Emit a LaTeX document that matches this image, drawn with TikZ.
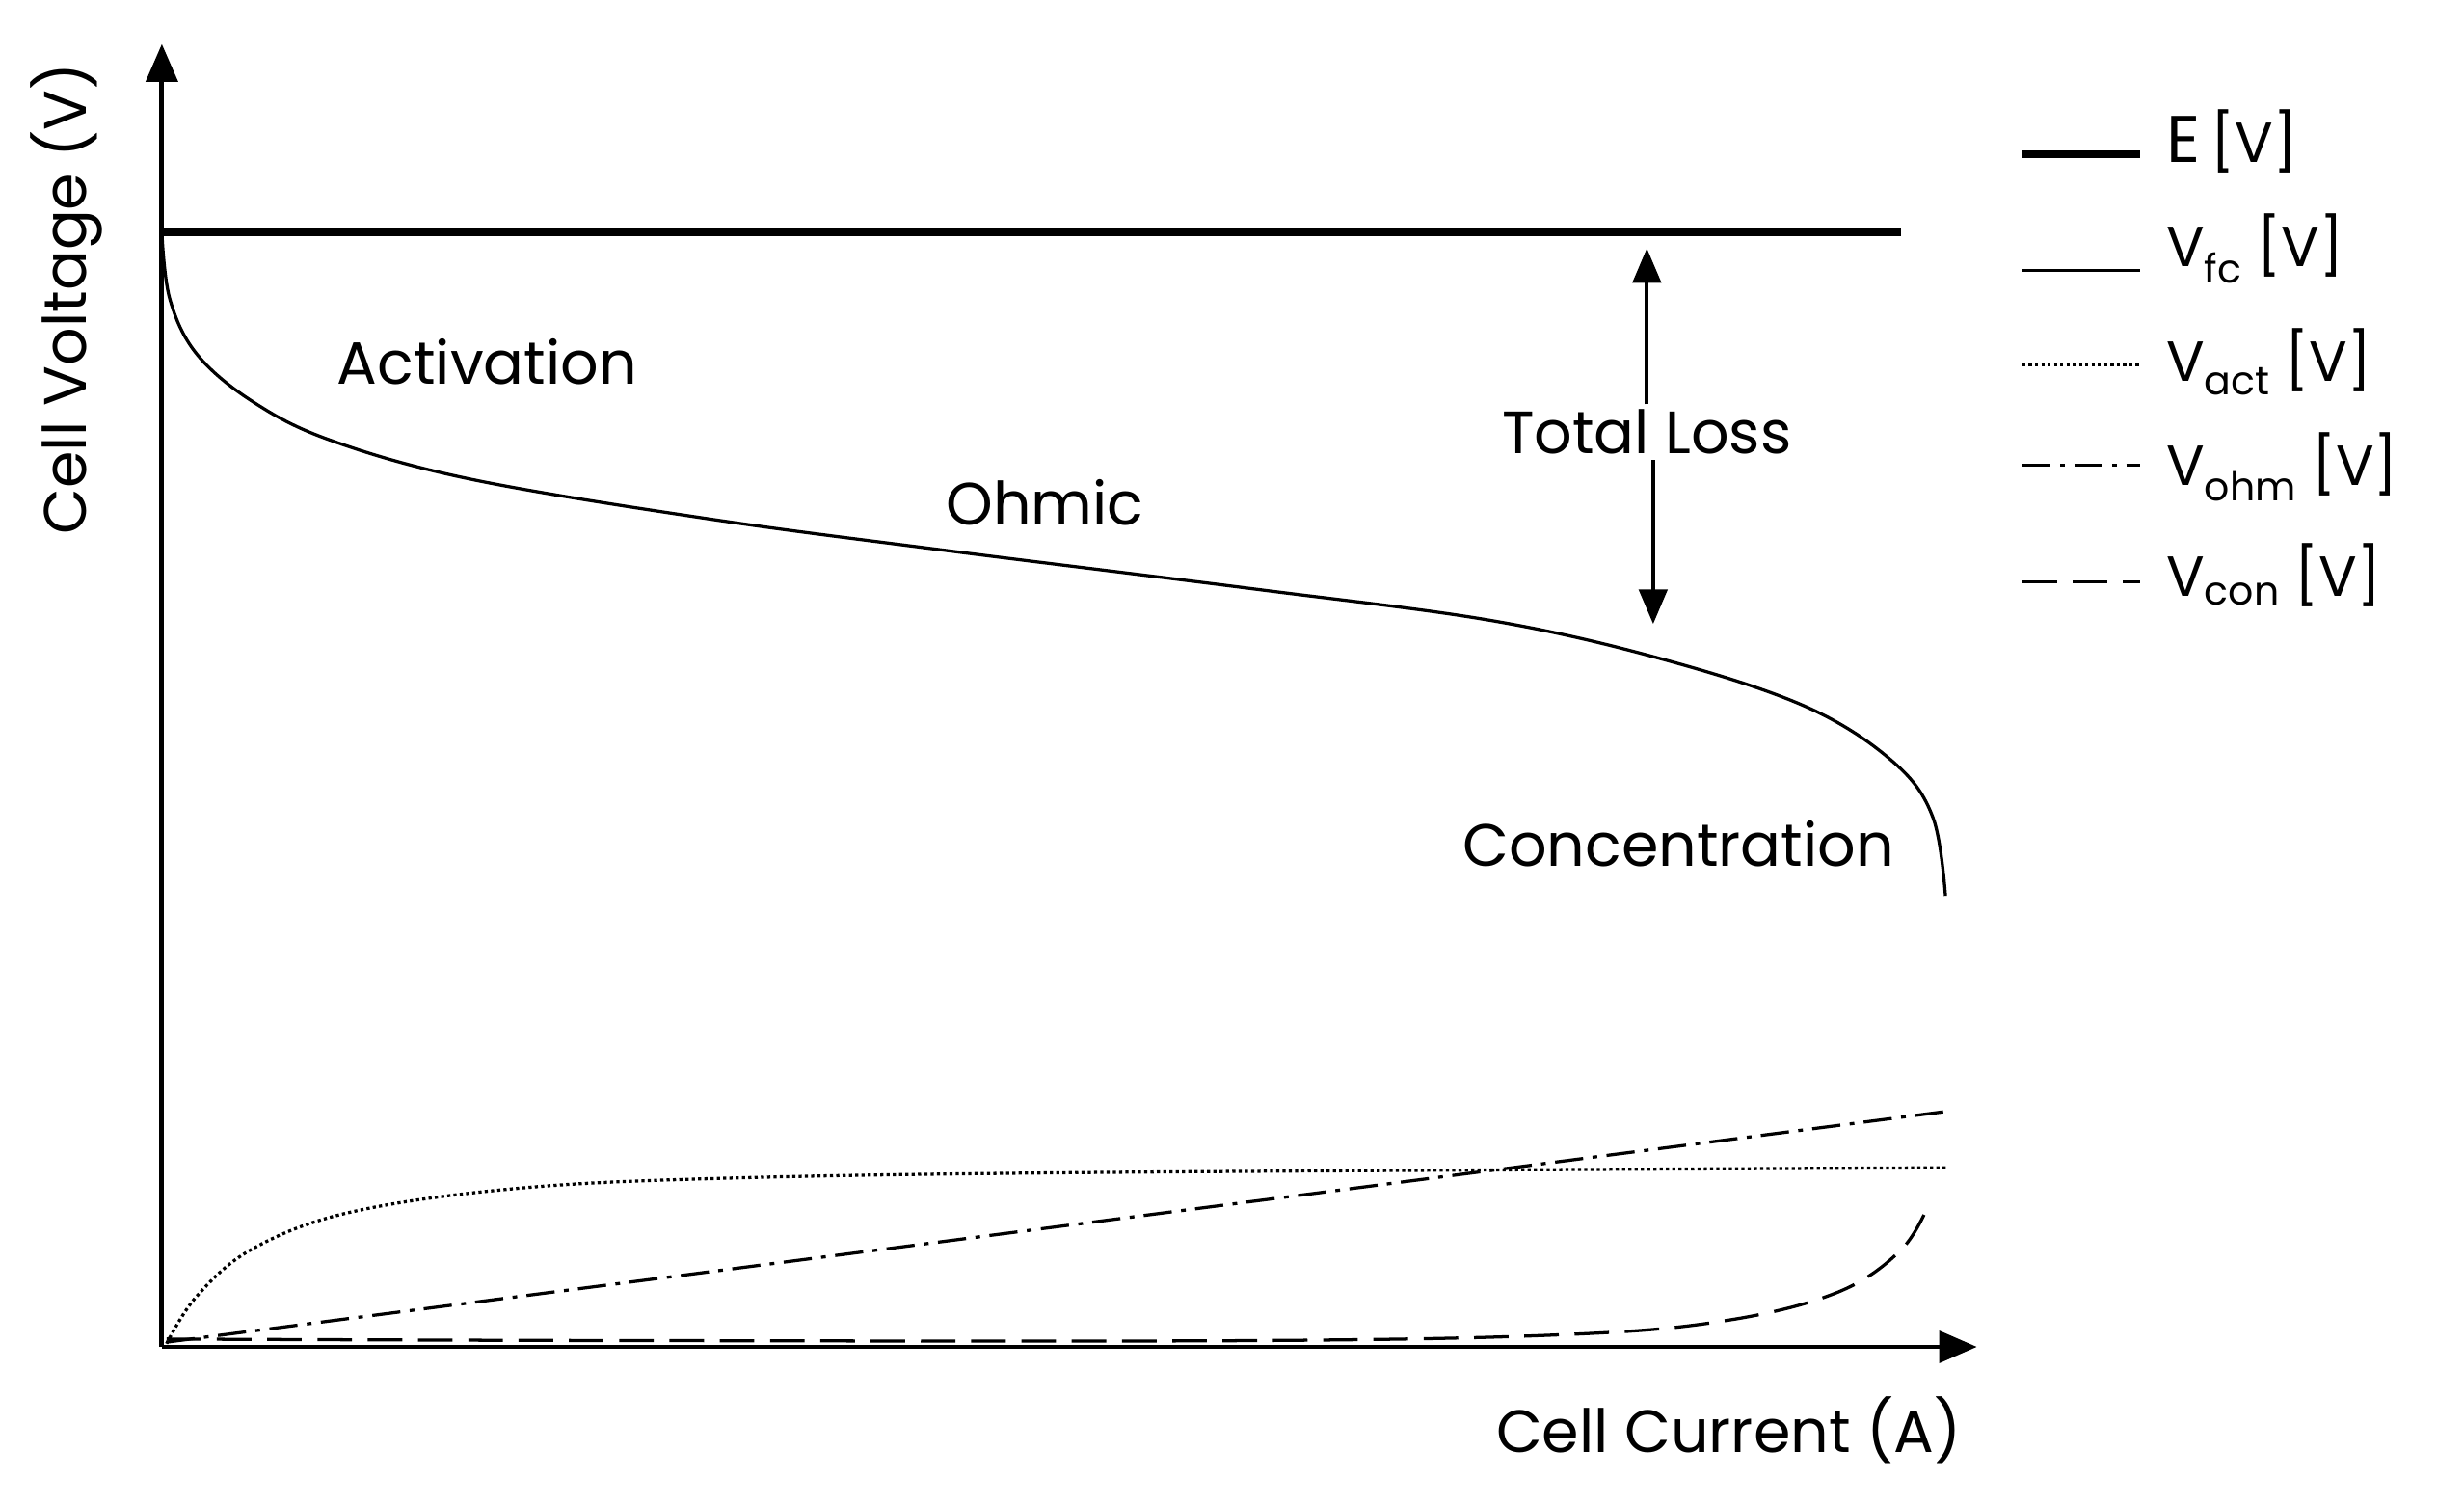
\documentclass[tikz,border=0pt]{standalone}
\usepackage{fontspec}
\setmainfont{Poppins}
\usetikzlibrary{arrows.meta}
\begin{document}
\begin{tikzpicture}[x=1pt,y=-1pt,
  lbl/.style={font=\fontsize{38}{44}\selectfont},
  leg/.style={font=\fontsize{36}{42}\selectfont,anchor=west},
  ax/.style={line width=3pt,-{Triangle[length=24pt,width=20pt]}},
  arr/.style={line width=2.5pt,-{Triangle[length=22pt,width=18pt]}},
  curve/.style={line width=2pt}]
\useasboundingbox (0,0) rectangle (1568,957.6);
\coordinate (O) at (103,857);
\coordinate (Ytop) at (103,28);
\coordinate (Xend) at (1258,857);
\draw[ax] (O) -- (Ytop);
\draw[ax] (O) -- (Xend);
% E
\draw[line width=5pt] (103,148) -- (1210,148);
% Vfc
\draw[curve] plot[smooth,tension=0.6] coordinates {(103,148) (108,190) (125,225) (160,255) (210,280) (300,305) (450,330) (600,350) (800,375) (950,395) (1060,420) (1150,450) (1205,485) (1230,520) (1238,570)};
% Vact
\draw[curve,dotted] plot[smooth,tension=0.6] coordinates {(106,855) (125,825) (160,795) (220,772) (320,757) (450,750) (700,746) (1240,743)};
% Vohm
\draw[curve,dash pattern=on 18pt off 6pt on 3pt off 6pt] (106,854) -- (1240,707);
% Vcon
\draw[curve,dash pattern=on 22pt off 10pt] plot[smooth,tension=0.6] coordinates {(106,852) (400,853) (800,853) (1000,849) (1100,840) (1170,822) (1210,795) (1228,765)};
% labels
\node[lbl] (act) at (310,230) {Activation};
\node[lbl] (ohm) at (665,320) {Ohmic};
\node[lbl] (tl) at (1048,275) {Total Loss};
\node[lbl] (con) at (1068,537) {Concentration};
\node[lbl] (xl) at (1100,910) {Cell Current (A)};
\node[lbl,rotate=90] (yl) at (42,190) {Cell Voltage (V)};
\coordinate (tltop) at (1048,158);
\coordinate (tlbot) at (1052,397);
\draw[arr] (tl.north -| tltop) -- (tltop);
\draw[arr] (tl.south -| tlbot) -- (tlbot);
% legend
\coordinate (l1a) at (1287,98); \coordinate (l1b) at (1362,98);
\draw[line width=5pt] (l1a) -- (l1b);
\node[leg,font=\fontsize{42}{48}\selectfont] at (1375,90) {E\,{\fontsize{36}{42}\selectfont[V]}};
\coordinate (l2a) at (1287,172); \coordinate (l2b) at (1362,172);
\draw[curve] (l2a) -- (l2b);
\node[leg] at (1375,158) {V\textsubscript{fc} [V]};
\coordinate (l3a) at (1287,232); \coordinate (l3b) at (1362,232);
\draw[curve,dotted] (l3a) -- (l3b);
\node[leg] at (1375,230) {V\textsubscript{act} [V]};
\coordinate (l4a) at (1287,296); \coordinate (l4b) at (1362,296);
\draw[curve,dash pattern=on 18pt off 6pt on 3pt off 6pt] (l4a) -- (l4b);
\node[leg] at (1375,297) {V\textsubscript{ohm} [V]};
\coordinate (l5a) at (1287,370); \coordinate (l5b) at (1362,370);
\draw[curve,dash pattern=on 22pt off 10pt] (l5a) -- (l5b);
\node[leg] at (1375,366) {V\textsubscript{con} [V]};
\end{tikzpicture}
\end{document}
